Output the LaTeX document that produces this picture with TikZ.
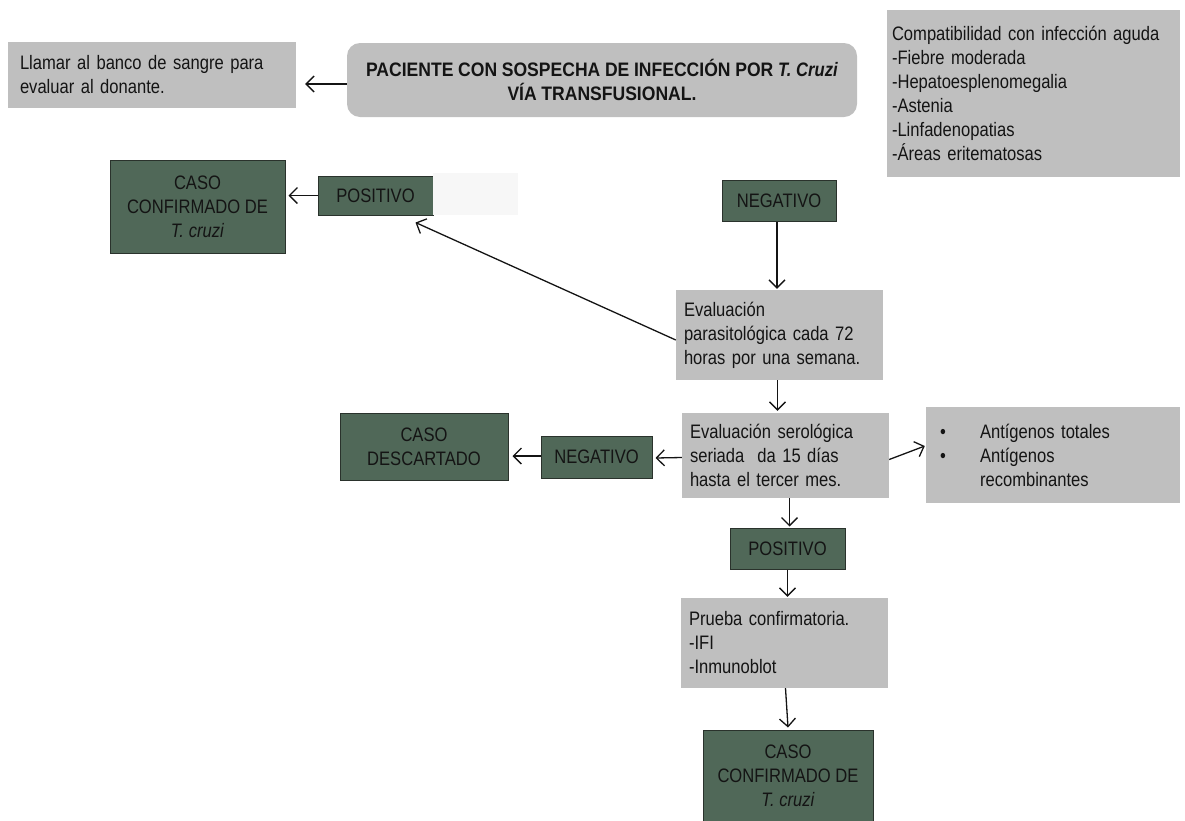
\documentclass[tikz,border=0pt]{standalone}
\usepackage{fontspec}
\setmainfont{Liberation Sans}[FakeStretch=0.85,
  BoldFeatures={FakeStretch=0.9}]
\usetikzlibrary{arrows.meta,calc}
\definecolor{boxgray}{HTML}{BFBFBF}
\definecolor{caseg}{HTML}{506858}
\definecolor{caseedge}{HTML}{2A322C}
\definecolor{ink}{HTML}{141414}
\newcommand\boxfont{\fontsize{19.5}{24}\selectfont\spaceskip=0.24em\relax}
\tikzset{
  graybox/.style={fill=boxgray, draw=none, inner ysep=0pt, align=left,
    font=\boxfont, text=ink},
  greenbox/.style={fill=caseg, draw=caseedge, line width=1pt, inner sep=0pt,
    align=center, font=\boxfont, text=ink},
  arr/.style={-{Straight Barb[length=8pt,width=16pt,line width=1.3pt]},
    line width=1.3pt, draw=ink},
}
\begin{document}
\begin{tikzpicture}[x=1pt,y=-1pt]
\useasboundingbox (0,0) rectangle (1185,820);

% top row
\node[graybox, text width=264pt, inner xsep=12pt, minimum height=66pt]
  (llamar) at (152,75) {Llamar al banco de sangre para\\evaluar al donante.};
\node[fill=boxgray, rounded corners=13pt, minimum width=510pt, minimum height=74pt,
  inner sep=0pt, align=center, font=\boxfont\bfseries, text=ink]
  (paciente) at (602,80)
  {PACIENTE CON SOSPECHA DE INFECCIÓN POR \textit{T. Cruzi}\\VÍA TRANSFUSIONAL.};
\node[graybox, text width=283pt, inner xsep=5pt, minimum height=167pt]
  (compat) at (1033.5,93.5)
  {Compatibilidad con infección aguda\\-Fiebre moderada\\-Hepatoesplenomegalia\\%
   -Astenia\\-Linfadenopatias\\-Áreas eritematosas};

% upper left branch
\node[greenbox, minimum width=175pt, minimum height=93pt] (caso1) at (197.5,206.5)
  {CASO\\CONFIRMADO DE\\\textit{T. cruzi}};
\node[greenbox, minimum width=115pt, minimum height=39pt] (pos1) at (375.5,195.5)
  {POSITIVO};
\node[fill=black!3, draw=none, minimum width=85pt, minimum height=42pt, inner sep=0pt]
  (blank) at (475.5,194) {};

% central column
\node[greenbox, minimum width=114pt, minimum height=41pt] (neg1) at (779,200.5)
  {NEGATIVO};
\node[graybox, text width=191pt, inner xsep=8pt, minimum height=90pt]
  (evalp) at (779.5,335)
  {Evaluación\\parasitológica cada 72\\horas por una semana.};
\node[graybox, text width=191pt, inner xsep=8pt, minimum height=85pt]
  (evals) at (785.5,455.5)
  {Evaluación serológica\\seriada\ \ da 15 días\\hasta el tercer mes.};
\node[greenbox, minimum width=111pt, minimum height=42pt] (neg2) at (596.5,457)
  {NEGATIVO};
\node[greenbox, minimum width=168pt, minimum height=67pt] (descart) at (424,446.5)
  {CASO\\DESCARTADO};
\node[graybox, text width=226pt, inner xsep=14pt, minimum height=96pt]
  (antig) at (1053,455)
  {\makebox[40pt][l]{\textbullet}Antígenos totales\\
   \makebox[40pt][l]{\textbullet}Antígenos\\
   \hspace*{40pt}recombinantes};
\node[greenbox, minimum width=115pt, minimum height=41pt] (pos2) at (787.5,548.5)
  {POSITIVO};
\node[graybox, text width=191pt, inner xsep=8pt, minimum height=90pt]
  (prueba) at (784.5,643)
  {Prueba confirmatoria.\\-IFI\\-Inmunoblot};
\node[greenbox, minimum width=170pt, minimum height=92pt] (caso2) at (788,776)
  {CASO\\CONFIRMADO DE\\\textit{T. cruzi}};

% connectors
\draw[arr] ($(paciente.west)+(0,4)$) -- ($(llamar.east)+(9,9)$);
\draw[arr] (pos1.west) -- ($(caso1.east|-pos1.west)+(3,0)$);
\draw[arr] ($(evalp.west)+(0,5)$) -- ($(pos1.south east)+(-18,7)$);
\draw[arr] ($(neg1.south)+(-2,0)$) -- ($(neg1.south|-evalp.north)+(-2,-1)$);
\draw[arr] ($(evalp.south)+(-2,0)$) -- ($(evalp.south|-evals.north)+(-2,-2)$);
\draw[arr] ($(evals.west)+(0,2)$) -- ($(neg2.east)+(3,1)$);
\draw[arr] ($(neg2.west)+(0,-1)$) -- ($(descart.east|-neg2.west)+(4,-1)$);
\draw[arr] ($(evals.east)+(0,4)$) -- ($(antig.west)+(-1,-9)$);
\draw[arr] ($(evals.south)+(4,0)$) -- ($(evals.south|-pos2.north)+(4,-1)$);
\draw[arr] (pos2.south) -- ($(pos2.south|-prueba.north)+(0,-1)$);
\draw[arr] ($(prueba.south)+(1,0)$) -- ($(caso2.north)+(0,-2)$);
\end{tikzpicture}
\end{document}
